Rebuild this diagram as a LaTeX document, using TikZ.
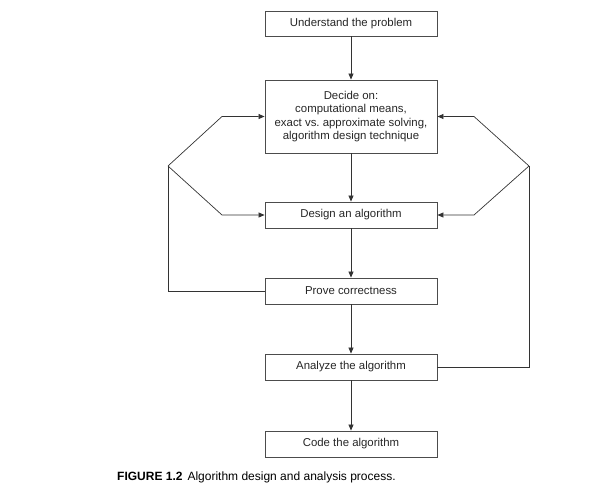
\documentclass[tikz,border=0pt]{standalone}
\usepackage{fontspec}
\setmainfont{Liberation Sans}
\usetikzlibrary{arrows.meta}
\begin{document}
\begin{tikzpicture}[x=1pt,y=-1pt,
  box/.style={draw=black!70,line width=0.9pt,minimum width=172pt,inner sep=0pt,align=center,font=\fontsize{11.4}{13.4}\selectfont,text=black!85},
  link/.style={draw=black!80,line width=0.7pt},
  arr/.style={link,-{Triangle[length=6pt,width=5pt]}}]
\useasboundingbox (0,0) rectangle (614,498);
\node[box,minimum height=25pt] (und) at (351,23.5) {Understand the problem};
\node[box,minimum height=73pt] (dec) at (351,116.5) {Decide on:\\computational means,\\exact vs.\ approximate solving,\\algorithm design technique};
\node[box,minimum height=26pt] (des) at (351,215) {Design an algorithm};
\node[box,minimum height=26pt] (pro) at (351,291) {Prove correctness};
\node[box,minimum height=26pt] (ana) at (351,367) {Analyze the algorithm};
\node[box,minimum height=26pt] (cod) at (351,444) {Code the algorithm};
\draw[arr] (und) -- (dec);
\draw[arr] (dec) -- (des);
\draw[arr] (des) -- (pro);
\draw[arr] (pro) -- (ana);
\draw[arr] (ana) -- (cod);
\coordinate (lj) at (168,166);
\coordinate (lu) at (222,116.5);
\coordinate (ld) at (222,215);
\coordinate (rj) at (529,166);
\coordinate (ru) at (474,116.5);
\coordinate (rd) at (474,215);
\draw[link] (pro.west) -| (lj);
\draw[arr] (lj) -- (lu) -- (dec.west);
\draw[arr] (lj) -- (ld) -- (des.west);
\draw[link] (ana.east) -| (rj);
\draw[arr] (rj) -- (ru) -- (dec.east);
\draw[arr] (rj) -- (rd) -- (des.east);
\node[anchor=west,inner sep=0pt,font=\fontsize{12}{14}\selectfont] (cap) at (117,477) {\textbf{FIGURE 1.2}\hspace{5pt}Algorithm design and analysis process.};
\end{tikzpicture}
\end{document}
